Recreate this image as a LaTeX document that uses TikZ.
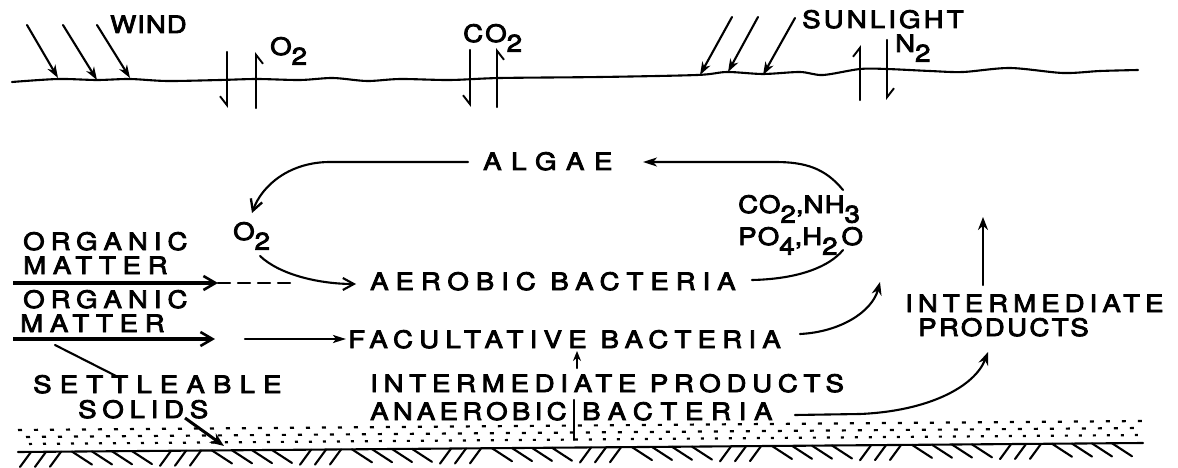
\documentclass[tikz,border=0pt]{standalone}
\usepackage{fontspec}
\setmainfont{TeX Gyre Heros}
\newfontfamily\labf{TeX Gyre Heros}[FakeStretch=1.15, FakeBold=3.5]
\usetikzlibrary{arrows.meta}
\newcommand\subd[1]{\raisebox{-0.4em}{#1}}
\newcommand\lsp[2]{{\addfontfeature{LetterSpace=#1}#2}}
\begin{document}
\begin{tikzpicture}[x=1pt,y=-1pt,
  lab/.style={inner sep=0pt, anchor=base west, font=\labf\fontsize{24}{28}\selectfont},
  capsonly/.style={text depth=0pt, text height=17pt},
  ln/.style={line width=2.1pt, line cap=round},
  thickarr/.style={line width=3.4pt, -{Straight Barb[length=12pt,width=14pt,line width=2.6pt]}},
  windarr/.style={ln, -{Stealth[length=13pt,width=9pt,inset=4pt]}},
  halfR/.style={ln, -{Straight Barb[right,length=9pt,width=14pt,line width=1.9pt]}},
  halfL/.style={ln, -{Straight Barb[left,length=9pt,width=14pt,line width=1.9pt]}},
  openarr/.style={ln, -{Straight Barb[length=11pt,width=12pt,line width=2.1pt]}},
  fillarr/.style={ln, -{Stealth[length=13pt,width=10pt]}}
]
\useasboundingbox (0,0) rectangle (1178,468);

% water surface
\draw[ln] plot[smooth] coordinates {(12,82) (58,79) (97,80) (130,79) (167,81) (220,80) (257,79) (300,80) (333,78) (367,81) (400,79) (450,80) (500,78) (600,77) (697,75) (727,72) (763,74) (800,72) (823,75) (860,69) (887,69) (930,71) (963,72) (1010,68) (1063,73) (1100,71) (1138,70)};

% wind
\node[lab] (wind) at (110,33) {\lsp{4}{WIND}};
\coordinate (w1s) at (27,25); \coordinate (w1e) at (58,78);
\coordinate (w2s) at (63,25); \coordinate (w2e) at (97,80);
\coordinate (w3s) at (97,25); \coordinate (w3e) at (130,78);
\draw[windarr] (w1s) -- (w1e);
\draw[windarr] (w2s) -- (w2e);
\draw[windarr] (w3s) -- (w3e);

% O2 exchange
\node[lab] (o2top) at (270,55) {O\subd{2}};
\coordinate (o2da) at (227,52); \coordinate (o2db) at (227,108);
\coordinate (o2ua) at (256,108); \coordinate (o2ub) at (256,52);
\draw[halfR] (o2da) -- (o2db);
\draw[halfR] (o2ua) -- (o2ub);

% CO2 exchange
\node[lab] (co2top) at (463,42) {\lsp{10}{CO}\subd{2}};
\coordinate (co2da) at (470,50); \coordinate (co2db) at (470,107);
\coordinate (co2ua) at (497,107); \coordinate (co2ub) at (497,48);
\draw[halfR] (co2da) -- (co2db);
\draw[halfR] (co2ua) -- (co2ub);

% sunlight
\node[lab] (sun) at (802,28) {\lsp{13}{SUNLIGHT}};
\coordinate (s1s) at (732,17); \coordinate (s1e) at (700,75);
\coordinate (s2s) at (758,17); \coordinate (s2e) at (728,72);
\coordinate (s3s) at (795,18); \coordinate (s3e) at (763,75);
\draw[windarr] (s1s) -- (s1e);
\draw[windarr] (s2s) -- (s2e);
\draw[windarr] (s3s) -- (s3e);

% N2 exchange
\node[lab] (n2top) at (895,52) {N\subd{2}};
\coordinate (n2ua) at (860,100); \coordinate (n2ub) at (860,45);
\coordinate (n2da) at (887,40); \coordinate (n2db) at (887,100);
\draw[halfL] (n2ua) -- (n2ub);
\draw[halfL] (n2da) -- (n2db);

% algae loop
\node[lab] (algae) at (483,170) {\lsp{40}{ALGAE}};
\node[lab] (o2m) at (233,240) {O\subd{2}};
\node[lab] (co2nh3) at (738,213) {\lsp{5}{CO}\subd{2},\lsp{5}{NH}\subd{3}};
\node[lab] (po4h2o) at (738,245) {\lsp{5}{PO}\subd{4},H\subd{2}\,O};
\coordinate (algL) at (468,162);
\coordinate (algLm) at (330,162);
\coordinate (o2in) at (252,213);
\draw[ln, -{Straight Barb[length=11pt,width=12pt,line width=2.3pt]}] (algL) -- (algLm) .. controls (290,162) and (262,185) .. (o2in);
\coordinate (algR) at (643,162);
\coordinate (algRm) at (775,162);
\coordinate (nh3top) at (843,190);
\draw[ln, -{Stealth[length=14pt,width=9pt,inset=4pt]}] (nh3top) .. controls (825,168) and (805,162) .. (algRm) -- (algR);

% organic matter 1
\node[lab, capsonly] (org1) at (23,250) {\lsp{25}{ORGANIC}};
\node[lab, capsonly] (mat1) at (23,274) {\lsp{28}{MATTER}};
\coordinate (oa1s) at (13,283); \coordinate (oa1e) at (218,283); \coordinate (oa1d) at (295,283);
\draw[thickarr] (oa1s) -- (oa1e);
\draw[ln, dash pattern=on 12pt off 8pt] (oa1e) -- (oa1d);

% aerobic bacteria
\node[lab] (aer) at (370,290) {\lsp{29}{AEROBIC BACTERIA}};
\coordinate (o2out) at (260,256); \coordinate (aerin) at (356,284);
\draw[openarr] (o2out) .. controls (280,275) and (320,284) .. (aerin);
\coordinate (aerout) at (752,280); \coordinate (h2otop) at (843,250);
\draw[ln] (aerout) .. controls (800,279) and (830,266) .. (h2otop);

% organic matter 2
\node[lab, capsonly] (org2) at (23,308) {\lsp{25}{ORGANIC}};
\node[lab, capsonly] (mat2) at (20,332) {\lsp{28}{MATTER}};
\coordinate (oa2s) at (13,339); \coordinate (oa2e) at (215,339);
\draw[thickarr] (oa2s) -- (oa2e);
\coordinate (fa3s) at (245,339); \coordinate (fa3e) at (346,339);
\draw[ln, -{Stealth[length=13pt,width=8pt,inset=3pt]}] (fa3s) -- (fa3e);

% facultative
\node[lab] (fac) at (348,348) {\lsp{26}{FACULTATIVE BACTERIA}};
\coordinate (facout) at (800,334); \coordinate (prodin) at (880,282);
\draw[fillarr] (facout) .. controls (840,332) and (872,312) .. (prodin);

% right intermediate products
\node[lab] (intR) at (905,312) {\lsp{21}{INTERMEDIATE}};
\node[lab] (prodR) at (918,336) {\lsp{10}{PRODUCTS}};
\coordinate (upa) at (983,285); \coordinate (upb) at (983,217);
\draw[fillarr] (upa) -- (upb);

% settleable solids
\node[lab] (sett) at (33,393) {\lsp{34}{SETTLEABLE}};
\node[lab] (sol) at (78,418) {\lsp{24}{SOLIDS}};
\coordinate (slA) at (55,345); \coordinate (slB) at (120,378);
\draw[ln] (slA) -- (slB);
\coordinate (solA) at (185,418); \coordinate (solB) at (224,446);
\draw[line width=3pt, -{Stealth[length=14pt,width=11pt]}] (solA) -- (solB);

% bottom intermediate products / anaerobic
\node[lab] (intB) at (370,392) {\lsp{24}{INTERMEDIATE PRODUCTS}};
\node[lab] (anaer) at (370,420) {\lsp{18}{ANAEROBIC}};
\node[lab] (bactB) at (582,420) {\lsp{32}{BACTERIA}};
\coordinate (barA) at (574,400); \coordinate (barB) at (574,440);
\draw[ln] (barA) -- (barB);
\coordinate (faca) at (577,368); \coordinate (facb) at (577,351);
\draw[ln, -{Stealth[length=10pt,width=8pt]}] (faca) -- (facb);
\coordinate (anOut) at (795,415); \coordinate (anMid) at (860,414); \coordinate (anIn) at (988,352);
\draw[fillarr] (anOut) -- (anMid) .. controls (930,411) and (975,386) .. (anIn);

% sediment
\draw[line width=2.2pt, dash pattern=on 4pt off 12pt] (18,430) -- (1143,421);
\draw[line width=2.2pt, dash pattern=on 4pt off 12pt, dash phase=8pt] (18,437) -- (1143,428);
\draw[line width=2.2pt, dash pattern=on 3pt off 11pt, dash phase=3pt] (18,444) -- (1143,435);
\draw[ln] (18,452) -- (1143,443);
\foreach \g in {0,...,7} {
  \foreach \d in {0,15,30} {
    \pgfmathsetmacro\xx{20+140*\g+\d}
    \pgfmathsetmacro\yy{452-9*(\xx-18)/1125}
    \draw[ln] (\xx,\yy+15) -- (\xx+11,\yy);
  }
  \foreach \d in {52,72,92,112} {
    \pgfmathsetmacro\xx{20+140*\g+\d}
    \pgfmathsetmacro\yy{452-9*(\xx-18)/1125}
    \ifdim\xx pt<1122pt \draw[ln] (\xx,\yy) -- (\xx+20,\yy+13); \fi
  }
}
\end{tikzpicture}
\end{document}
